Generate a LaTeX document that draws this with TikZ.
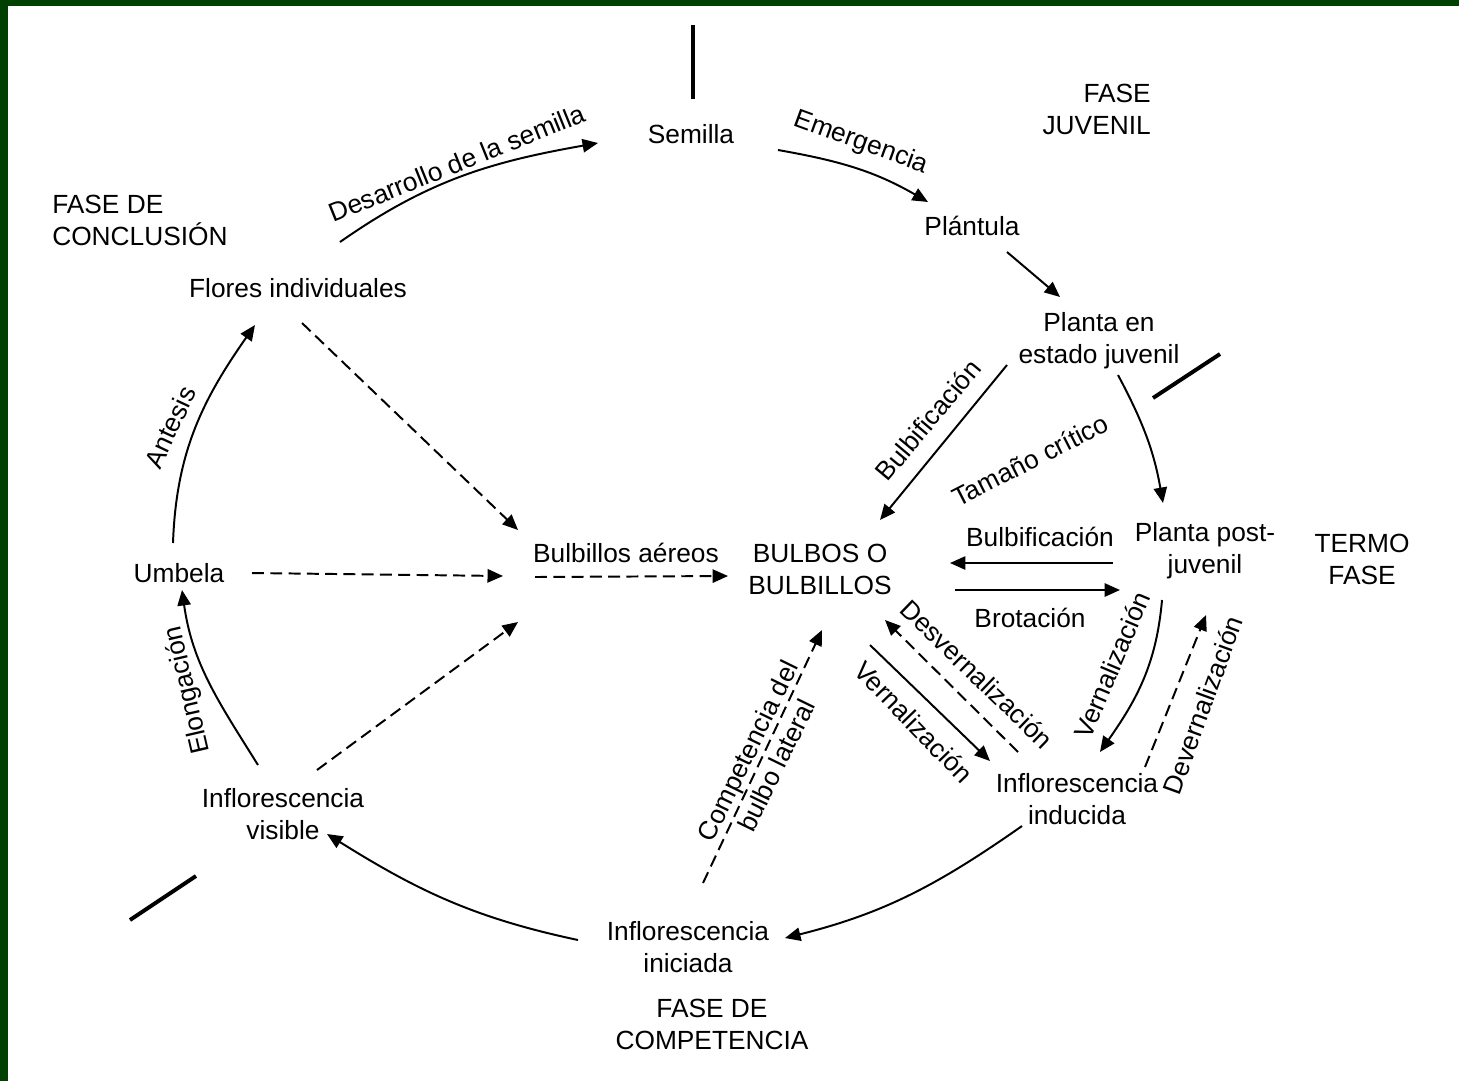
\documentclass[tikz,border=0pt]{standalone}
\usepackage{fontspec}
\setmainfont{Liberation Sans}
\usetikzlibrary{arrows.meta}
\definecolor{framegreen}{RGB}{0,64,0}

\begin{document}
\begin{tikzpicture}[
  x=0.025cm, y=-0.025cm,
  every node/.style={font=\fontsize{18.7}{22.8}\selectfont, inner sep=0pt},
  stage/.style={align=center},
  phase/.style={align=center},
  lbl/.style={align=center},
  arr/.style={-{Triangle[length=11pt,width=9.5pt]}, line width=1.4pt},
  darr/.style={arr, dash pattern=on 8.5pt off 4.5pt},
  tick/.style={line width=2.8pt}
]
\useasboundingbox (0,0) rectangle (1459,1081);
% green frame, left and top
\fill[framegreen] (0,0) rectangle (8,1081);
\fill[framegreen] (0,0) rectangle (1459,6);

% Stages of the cycle
\node[stage] (semilla) at (691,134) {Semilla};
\node[stage] (plantula) at (972,226) {Plántula};
\node[stage] (juvenil) at (1099,341) {Planta en\\estado juvenil};
\node[stage] (postjuv) at (1205,551) {Planta post-\\juvenil};
\node[stage] (bulbos) at (820,569) {BULBOS O\\BULBILLOS};
\node[stage] (aereos) at (626,553) {Bulbillos aéreos};
\node[stage] (flores) at (298,288) {Flores individuales};
\node[stage] (umbela) at (179,573) {Umbela};
\node[stage] (visible) at (283,814) {Inflorescencia\\visible};
\node[stage] (iniciada) at (688,947) {Inflorescencia\\iniciada};
\node[stage] (inducida) at (1077,799) {Inflorescencia\\inducida};

% Phases
\node[phase, align=right, anchor=east] (fasejuv) at (1151,109) {FASE\\JUVENIL};
\node[phase, align=left, anchor=west] (faseconc) at (52,220) {FASE DE\\CONCLUSIÓN};
\node[phase] (termo) at (1362,559) {TERMO\\FASE};
\node[phase] (fasecomp) at (712,1024) {FASE DE\\COMPETENCIA};

% Phase separators
\draw[tick] (693,25) -- (693,99);
\draw[tick] (1153,398) -- (1220,354);
\draw[tick] (130,920) -- (196,876);

% Transition labels
\node[lbl, rotate=22] (ldesarrollo) at (457,163) {Desarrollo de la semilla};
\node[lbl, rotate=-20] (lemergencia) at (861,143) {Emergencia};
\node[lbl, rotate=50] (lbulbdiag) at (928,420) {Bulbificación};
\node[lbl, rotate=27] (ltamano) at (1030,460) {Tamaño crítico};
\node[lbl] (lbulbhor) at (1040,537) {Bulbificación};
\node[lbl] (lbrotacion) at (1030,618) {Brotación};
\node[lbl, rotate=67] (lvernder) at (1112,665) {Vernalización};
\node[lbl, rotate=70] (ldevern) at (1203,705) {Devernalización};
\node[lbl, rotate=-44] (ldesvern) at (977,674) {Desvernalización};
\node[lbl, rotate=-46] (lvernmed) at (914,722) {Vernalización};
\node[lbl, rotate=64] (lcompet) at (762,758) {Competencia del\\bulbo lateral};
\node[lbl, rotate=65] (lantesis) at (170,427) {Antesis};
\node[lbl, rotate=103] (lelong) at (188,690) {Elongación};

% Main cycle
\draw[arr] ([shift={(42,-46)}]flores.center) to[out=35, in=190] ([shift={(-93,9)}]semilla.center);
\draw[arr] ([shift={(87,16)}]semilla.center) to[out=-10, in=150] ([shift={(-44,-24)}]plantula.center);
\draw[arr] ([shift={(35,26)}]plantula.center) -- ([shift={(-39,-44)}]juvenil.center);
\draw[arr] ([shift={(19,34)}]juvenil.center) to[out=-62, in=100] ([shift={(-42,-48)}]postjuv.center);
\draw[arr] ([shift={(-92,24)}]juvenil.center) -- ([shift={(60,-49)}]bulbos.center);
\draw[arr] ([shift={(-92,12)}]postjuv.center) -- ([shift={(130,-6)}]bulbos.center);
\draw[arr] ([shift={(135,21)}]bulbos.center) -- ([shift={(-85,39)}]postjuv.center);
\draw[arr] ([shift={(-43,49)}]postjuv.center) to[out=-95, in=55] ([shift={(23,-47)}]inducida.center);
\draw[darr] ([shift={(68,-32)}]inducida.center) -- ([shift={(1,64)}]postjuv.center);
\draw[darr] ([shift={(-59,-47)}]inducida.center) -- ([shift={(65,51)}]bulbos.center);
\draw[arr] ([shift={(50,76)}]bulbos.center) -- ([shift={(-87,-38)}]inducida.center);
\draw[arr] ([shift={(-55,27)}]inducida.center) to[out=-145, in=14] ([shift={(97,-9)}]iniciada.center);
\draw[arr] ([shift={(-110,-7)}]iniciada.center) to[out=168, in=-32] ([shift={(44,20)}]visible.center);
\draw[arr] ([shift={(-25,-49)}]visible.center) to[out=122, in=-82] ([shift={(3,17)}]umbela.center);
\draw[arr] ([shift={(-6,-30)}]umbela.center) to[out=88, in=-125] ([shift={(-43,37)}]flores.center);

% Aerial bulblets
\draw[darr] ([shift={(4,35)}]flores.center) -- ([shift={(-108,-23)}]aereos.center);
\draw[darr] ([shift={(73,0)}]umbela.center) -- ([shift={(-123,23)}]aereos.center);
\draw[darr] ([shift={(34,-44)}]visible.center) -- ([shift={(-108,69)}]aereos.center);
\draw[darr] ([shift={(-91,24)}]aereos.center) -- ([shift={(-92,7)}]bulbos.center);
\draw[darr] ([shift={(15,-64)}]iniciada.center) -- ([shift={(2,61)}]bulbos.center);

\end{tikzpicture}
\end{document}
